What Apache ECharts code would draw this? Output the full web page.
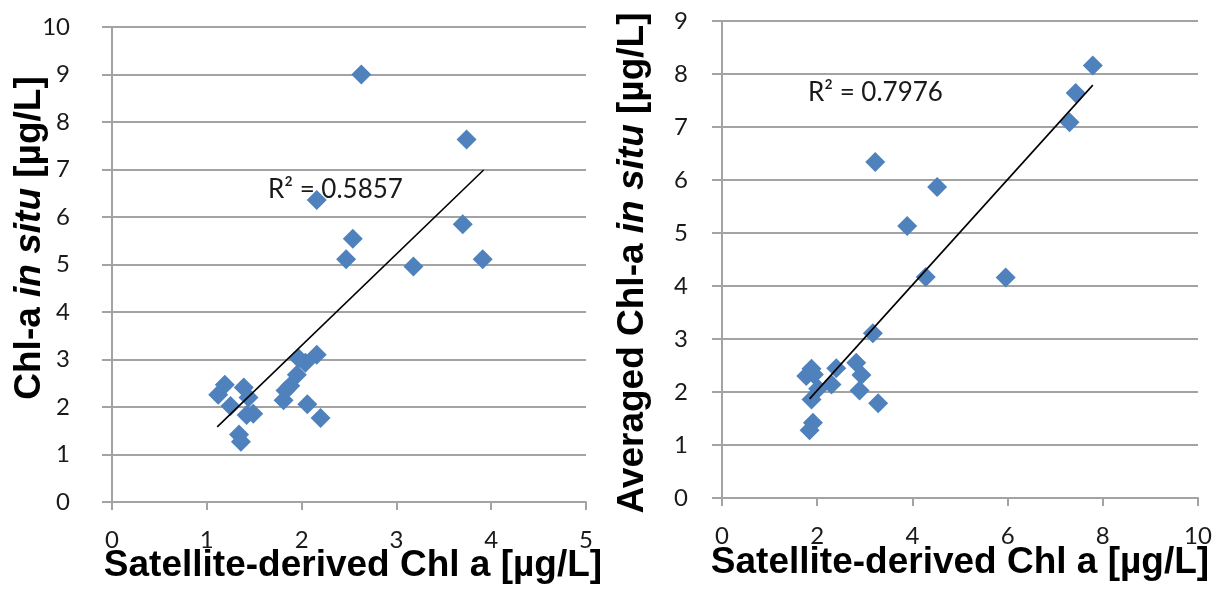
<!DOCTYPE html>
<html>
<head>
<meta charset="utf-8">
<script src="https://cdn.jsdelivr.net/npm/echarts@6/dist/echarts.min.js"></script>
<style>
html, body { margin: 0; padding: 0; background: #fff; }
#main { width: 1218px; height: 594px; }
</style>
</head>
<body>
<div id="main"></div>
<script type="text/javascript">
// left panel: satellite vs in situ
var leftX = [2.63, 3.74, 2.16, 3.70, 2.54, 2.47, 3.18, 3.91, 2.16, 2.04, 1.97, 1.95, 1.88, 1.83, 1.81, 2.06, 2.20, 1.19, 1.12, 1.25, 1.39, 1.44, 1.42, 1.49, 1.34, 1.36];
var leftY = [9.00, 7.63, 6.36, 5.85, 5.54, 5.11, 4.96, 5.11, 3.10, 2.93, 3.02, 2.68, 2.45, 2.35, 2.14, 2.06, 1.77, 2.47, 2.26, 2.02, 2.41, 2.20, 1.83, 1.86, 1.42, 1.27];
var leftTrendX = [1.11, 3.92];
var leftTrendY = [1.58, 6.99];
var leftR2 = 'R² = 0.5857';

// right panel: satellite vs averaged in situ
var rightX = [7.79, 7.43, 7.30, 3.22, 4.52, 3.89, 4.28, 5.96, 3.17, 3.28, 1.88, 1.77, 1.93, 2.40, 2.30, 2.82, 2.93, 2.89, 1.88, 2.02, 1.91, 1.84];
var rightY = [8.16, 7.64, 7.09, 6.34, 5.87, 5.13, 4.17, 4.16, 3.11, 1.79, 2.44, 2.30, 2.33, 2.45, 2.14, 2.55, 2.32, 2.03, 1.86, 2.06, 1.42, 1.28];
var rightTrendX = [1.84, 7.79];
var rightTrendY = [1.87, 7.79];
var rightR2 = 'R² = 0.7976';

var xTitle = 'Satellite-derived Chl a [µg/L]';

function pairs(xs, ys) {
    return xs.map(function (x, i) { return [x, ys[i]]; });
}

var gray = '#a3a3a3';
var tickFont = { fontFamily: 'Lato', fontSize: 24, color: '#1a1a1a' };
var titleFont = 'bold 37px "Liberation Sans", Arial, sans-serif';
var italicFont = 'italic bold 37px "Liberation Sans", Arial, sans-serif';

function xAxisOf(idx, max, interval) {
    return {
        type: 'value', gridIndex: idx, min: 0, max: max, interval: interval,
        axisLine: { show: true, lineStyle: { color: gray, width: 2 } },
        axisTick: { show: true, length: 8, lineStyle: { color: gray, width: 2 } },
        axisLabel: Object.assign({ margin: 26 }, tickFont),
        splitLine: { show: false }
    };
}
function yAxisOf(idx, max, margin) {
    return {
        type: 'value', gridIndex: idx, min: 0, max: max, interval: 1,
        axisLine: { show: true, lineStyle: { color: gray, width: 2 } },
        axisTick: { show: true, length: 10, lineStyle: { color: gray, width: 2 } },
        axisLabel: Object.assign({ margin: margin }, tickFont),
        splitLine: { show: true, lineStyle: { color: gray, width: 2 } }
    };
}

var myChart = echarts.init(document.getElementById('main'));
var option = {
    animation: false,
    grid: [
        { left: 112, top: 27, width: 474, height: 475 },
        { left: 722, top: 21, width: 476, height: 477 }
    ],
    xAxis: [xAxisOf(0, 5, 1), xAxisOf(1, 10, 2)],
    yAxis: [yAxisOf(0, 10, 42), yAxisOf(1, 9, 34)],
    series: [
        {
            type: 'scatter', xAxisIndex: 0, yAxisIndex: 0,
            symbol: 'diamond', symbolSize: 20,
            itemStyle: { color: '#4f81bd', opacity: 1 },
            data: pairs(leftX, leftY)
        },
        {
            type: 'line', xAxisIndex: 0, yAxisIndex: 0, symbol: 'none',
            lineStyle: { color: '#000', width: 1.6 },
            data: pairs(leftTrendX, leftTrendY), z: 3
        },
        {
            type: 'scatter', xAxisIndex: 1, yAxisIndex: 1,
            symbol: 'diamond', symbolSize: 20,
            itemStyle: { color: '#4f81bd', opacity: 1 },
            data: pairs(rightX, rightY)
        },
        {
            type: 'line', xAxisIndex: 1, yAxisIndex: 1, symbol: 'none',
            lineStyle: { color: '#000', width: 1.6 },
            data: pairs(rightTrendX, rightTrendY), z: 3
        }
    ],
    graphic: [
        // R² labels
        { type: 'text', x: 268, y: 190, z: 10,
          style: { text: leftR2, font: '26px Lato', fill: '#1a1a1a', align: 'left', verticalAlign: 'middle' } },
        { type: 'text', x: 808, y: 93, z: 10,
          style: { text: rightR2, font: '26px Lato', fill: '#1a1a1a', align: 'left', verticalAlign: 'middle' } },
        // x axis titles
        { type: 'text', x: 353, y: 566,
          style: { text: xTitle, font: titleFont, fill: '#000', align: 'center', verticalAlign: 'middle' } },
        { type: 'text', x: 960, y: 563,
          style: { text: xTitle, font: titleFont, fill: '#000', align: 'center', verticalAlign: 'middle' } },
        // y axis titles
        { type: 'text', x: 30, y: 238, rotation: Math.PI / 2,
          style: {
              text: '{a|Chl-a }{b|in situ}{a| [µg/L]}',
              align: 'center', verticalAlign: 'middle',
              rich: { a: { font: titleFont, fill: '#000' }, b: { font: italicFont, fill: '#000' } }
          } },
        { type: 'text', x: 633, y: 263, rotation: Math.PI / 2,
          style: {
              text: '{a|Averaged Chl-a }{b|in situ}{a| [µg/L]}',
              align: 'center', verticalAlign: 'middle',
              rich: { a: { font: titleFont, fill: '#000' }, b: { font: italicFont, fill: '#000' } }
          } }
    ]
};
myChart.setOption(option);
</script>
</body>
</html>
